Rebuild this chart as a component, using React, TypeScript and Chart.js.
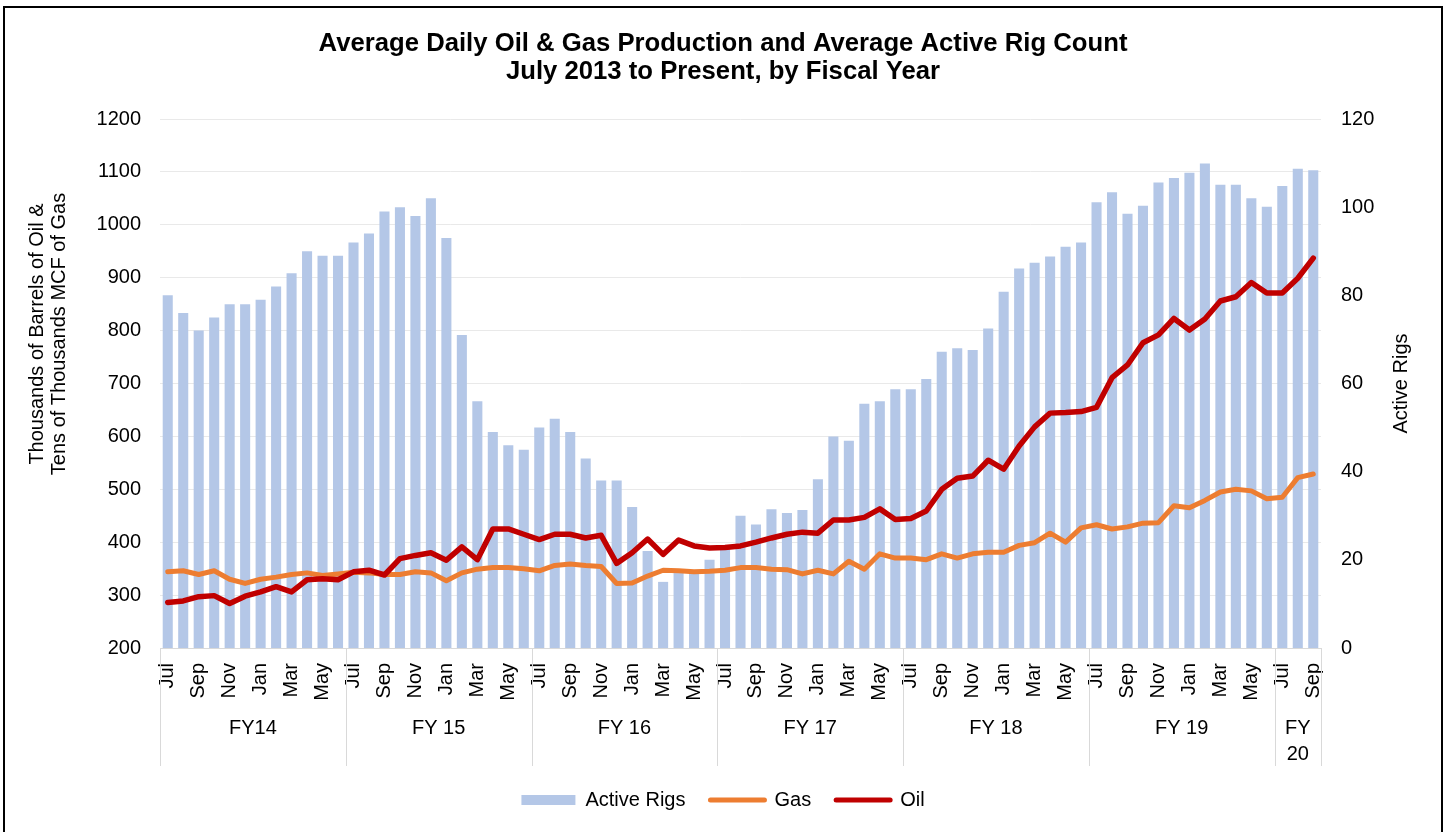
import React, { useEffect, useRef } from "react";
import { Chart, registerables } from "chart.js";

Chart.register(...registerables);

// ---- Data ----
const monthNames = ["Jul", "Aug", "Sep", "Oct", "Nov", "Dec", "Jan", "Feb", "Mar", "Apr", "May", "Jun"];
const fiscalYears = ["FY14", "FY 15", "FY 16", "FY 17", "FY 18", "FY 19", "FY 20"];
const fiscalYearMonthCounts = [12, 12, 12, 12, 12, 12, 3];

const categories: string[] = [];
fiscalYearMonthCounts.forEach((count) => {
  for (let i = 0; i < count; i++) categories.push(monthNames[i]);
});

const activeRigs = [
  80, 76, 72, 75, 78, 78, 79, 82, 85, 90, 89, 89,
  92, 94, 99, 100, 98, 102, 93, 71, 56, 49, 46, 45,
  50, 52, 49, 43, 38, 38, 32, 22, 15, 17, 17, 20,
  23, 30, 28, 31.5, 30.6, 31.3, 38.3, 48, 47, 55.4, 56, 58.7,
  58.7, 61, 67.2, 68, 67.6, 72.5, 80.8, 86.1, 87.4, 88.8, 91, 92,
  101.1, 103.4, 98.5, 100.3, 105.6, 106.6, 107.8, 109.9, 105.1, 105.1, 102, 100.1,
  104.8, 108.7, 108.4,
];

const gas = [
  344, 346, 339, 346, 330, 322, 330, 334, 339, 342, 337, 340,
  343, 342, 339, 339, 344, 342, 327, 342, 349, 352, 352, 350,
  346, 356, 359, 356, 354, 322, 323, 336, 347, 346, 344, 345,
  347, 352, 352, 349, 348, 340, 347, 340, 364, 349, 378, 370,
  370, 367, 378, 370, 378, 381, 381, 394, 399, 417, 400, 427,
  433, 425, 429, 436, 437, 469, 465, 479, 495, 500, 497, 482,
  485, 522, 529,
];

const oil = [
  286, 289, 297, 299, 284, 298, 306, 316, 306, 329, 331, 329,
  344, 347, 338, 369, 375, 380, 366, 391, 367, 425, 425, 415,
  405, 415, 415, 408, 413, 360, 380, 406, 377, 404, 393, 389,
  390, 393, 400, 408, 415, 419, 417, 442, 442, 447, 463, 443,
  445, 459, 500, 521, 525, 555, 538, 582, 618, 644, 645, 647,
  655, 711, 735, 777, 792, 823, 801, 822, 856, 864, 891, 871,
  871, 899, 937,
];

const leftTicks = { min: 200, max: 1200, step: 100 };
const rightTicks = { min: 0, max: 120, step: 20 };

const titleLines = [
  "Average Daily Oil & Gas Production and Average Active Rig Count",
  "July 2013 to Present, by Fiscal Year",
];
const leftAxisTitle = ["Thousands of Barrels of Oil &", "Tens of Thousands MCF of Gas"];
const rightAxisTitle = "Active Rigs";

const COLORS = {
  rigs: "#B4C7E7",
  gas: "#ED7D31",
  oil: "#C00000",
  grid: "#E9E9E9",
  axis: "#D9D9D9",
};

const FONT = "'Liberation Sans', Arial, Helvetica, sans-serif";

const decorPlugin = {
  id: "decor",
  afterDraw(chart: any) {
    const { ctx, chartArea, scales } = chart;
    const xs = scales.x;
    const n = categories.length;
    const bin = (xs.right - xs.left) / n;
    const top = chartArea.bottom;
    const bottom = top + 118;
    ctx.save();
    // group separators
    ctx.strokeStyle = COLORS.axis;
    ctx.lineWidth = 1;
    const edges = [0];
    let acc = 0;
    fiscalYearMonthCounts.forEach((c) => {
      acc += c;
      edges.push(acc);
    });
    edges.forEach((e) => {
      const px = Math.round(xs.left + e * bin) + 0.5;
      ctx.beginPath();
      ctx.moveTo(px, top);
      ctx.lineTo(px, bottom);
      ctx.stroke();
    });
    // group labels
    ctx.fillStyle = "#000";
    ctx.font = `20px ${FONT}`;
    ctx.textAlign = "center";
    ctx.textBaseline = "middle";
    fiscalYears.forEach((fy, i) => {
      const cx = xs.left + ((edges[i] + edges[i + 1]) / 2) * bin;
      const w = fiscalYearMonthCounts[i] * bin;
      const lines = ctx.measureText(fy).width > w - 6 ? fy.split(" ") : [fy];
      lines.forEach((ln: string, j: number) => ctx.fillText(ln, cx, top + 80 + j * 26));
    });
    // left axis title
    ctx.save();
    ctx.translate(32, 326);
    ctx.rotate(-Math.PI / 2);
    ctx.textAlign = "center";
    ctx.textBaseline = "middle";
    leftAxisTitle.forEach((ln, j) => ctx.fillText(ln, 0, j * 22));
    ctx.restore();
    // right axis title
    ctx.save();
    ctx.translate(1396, (chartArea.top + chartArea.bottom) / 2);
    ctx.rotate(-Math.PI / 2);
    ctx.textAlign = "center";
    ctx.textBaseline = "middle";
    ctx.fillText(rightAxisTitle, 0, 0);
    ctx.restore();
    ctx.restore();
  },
};

export default function App() {
  const canvasRef = useRef<HTMLCanvasElement | null>(null);

  useEffect(() => {
    if (!canvasRef.current) return;
    Chart.defaults.font.family = FONT;
    Chart.defaults.color = "#000";
    const chart = new Chart(canvasRef.current, {
      type: "bar",
      data: {
        labels: categories,
        datasets: [
          {
            type: "bar",
            label: "Active Rigs",
            data: activeRigs,
            backgroundColor: COLORS.rigs,
            yAxisID: "y1",
            barPercentage: 0.65,
            categoryPercentage: 1,
            order: 3,
          } as any,
          {
            type: "line",
            label: "Gas",
            data: gas,
            borderColor: COLORS.gas,
            backgroundColor: COLORS.gas,
            borderWidth: 5,
            pointRadius: 0,
            borderJoinStyle: "round",
            borderCapStyle: "round",
            tension: 0,
            yAxisID: "y",
            order: 2,
          },
          {
            type: "line",
            label: "Oil",
            data: oil,
            borderColor: COLORS.oil,
            backgroundColor: COLORS.oil,
            borderWidth: 5.5,
            pointRadius: 0,
            borderJoinStyle: "round",
            borderCapStyle: "round",
            tension: 0,
            yAxisID: "y",
            order: 1,
          },
        ],
      },
      options: {
        responsive: false,
        animation: false,
        layout: { padding: { left: 0, right: 0, top: 0, bottom: 12 } },
        plugins: {
          tooltip: { enabled: false },
          title: {
            display: true,
            text: titleLines,
            color: "#000",
            font: { size: 25.7, weight: "bold", lineHeight: "28px" } as any,
            padding: { top: 22, bottom: 33 },
          },
          legend: {
            display: true,
            position: "bottom",
            labels: {
              usePointStyle: true,
              pointStyleWidth: 54,
              boxHeight: 10,
              padding: 25,
              color: "#000",
              font: { size: 20 },
              generateLabels: (chart: any) =>
                chart.data.datasets.map((ds: any, i: number) => ({
                  text: ds.label,
                  datasetIndex: i,
                  fillStyle: ds.type === "bar" ? COLORS.rigs : ds.borderColor,
                  strokeStyle: ds.type === "bar" ? COLORS.rigs : ds.borderColor,
                  lineWidth: ds.type === "bar" ? 0 : 5,
                  lineCap: "round",
                  pointStyle: ds.type === "bar" ? "rect" : "line",
                  hidden: false,
                  fontColor: "#000",
                })),
            },
          },
        },
        scales: {
          x: {
            grid: { display: false, drawTicks: false },
            border: { display: true, color: COLORS.axis, width: 1 },
            ticks: {
              autoSkip: false,
              minRotation: 90,
              maxRotation: 90,
              padding: 15,
              font: { size: 20 },
              color: "#000",
              callback: (_v: any, i: number) => (i % 2 === 0 ? categories[i] : ""),
            },
            afterFit: (scale: any) => {
              scale.height = 117;
            },
          },
          y: {
            position: "left",
            min: leftTicks.min,
            max: leftTicks.max,
            ticks: {
              stepSize: leftTicks.step,
              padding: 19,
              font: { size: 20 },
              color: "#000",
              callback: (v: any) => String(v),
            },
            grid: { color: COLORS.grid, drawTicks: false, lineWidth: 1 },
            border: { display: false },
            afterFit: (scale: any) => {
              scale.width = 155;
            },
          },
          y1: {
            position: "right",
            min: rightTicks.min,
            max: rightTicks.max,
            ticks: {
              stepSize: rightTicks.step,
              padding: 20,
              font: { size: 20 },
              color: "#000",
              callback: (v: any) => String(v),
            },
            grid: { display: false, drawTicks: false },
            border: { display: false },
            afterFit: (scale: any) => {
              scale.width = 120;
            },
          },
        },
      },
      plugins: [decorPlugin],
    });
    return () => chart.destroy();
  }, []);

  return (
    <div
      style={{
        position: "absolute",
        left: 3,
        top: 6,
        width: 1440,
        height: 826,
        boxSizing: "border-box",
        borderTop: "2px solid #000",
        borderLeft: "2px solid #000",
        borderRight: "2px solid #000",
        background: "#fff",
      }}
    >
      <canvas ref={canvasRef} width={1436} height={824} style={{ display: "block" }} />
    </div>
  );
}
